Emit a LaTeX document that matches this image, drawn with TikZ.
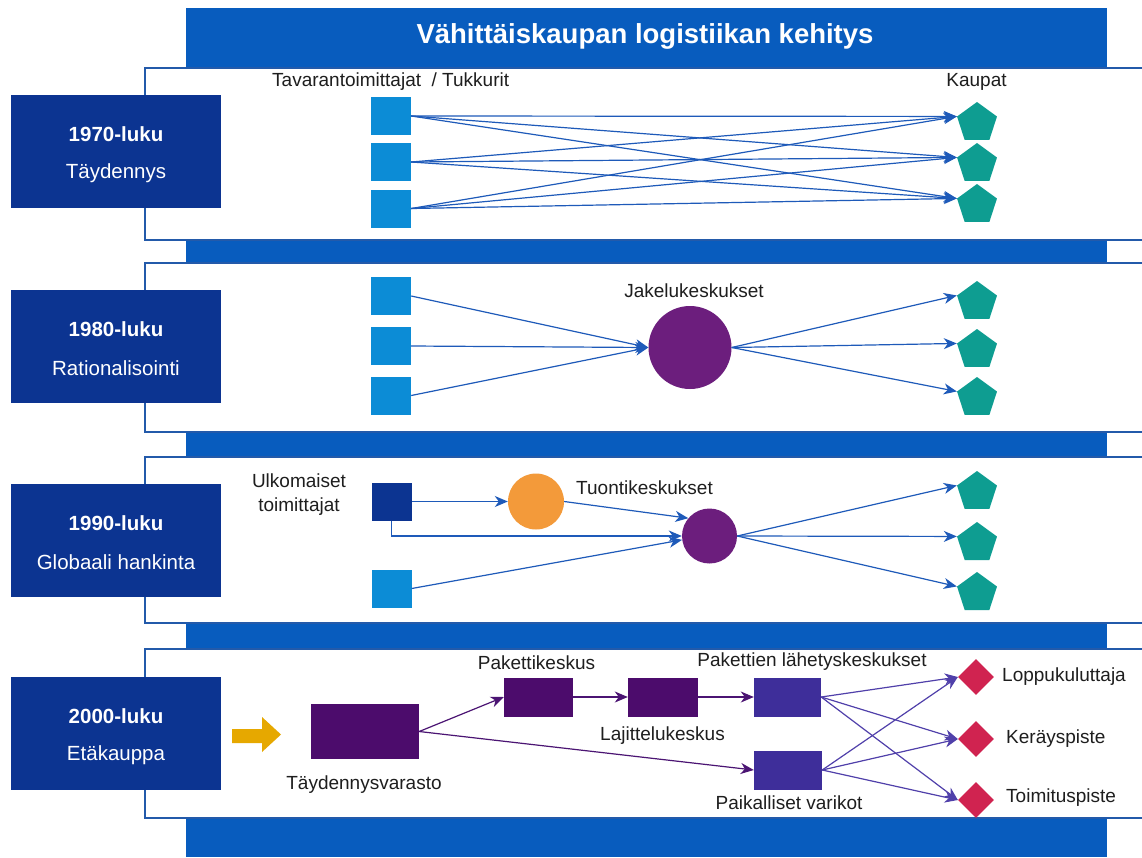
\documentclass[tikz,border=0pt]{standalone}
\usepackage{fontspec}
\setmainfont{Liberation Sans}
\usetikzlibrary{shapes.geometric,arrows.meta}
\definecolor{bandblue}{RGB}{8,92,190}
\definecolor{panelline}{RGB}{35,90,170}
\definecolor{navybox}{RGB}{12,52,145}
\definecolor{sqblue}{RGB}{12,140,214}
\definecolor{pentteal}{RGB}{14,157,145}
\definecolor{circpurple}{RGB}{108,30,125}
\definecolor{circorange}{RGB}{243,154,58}
\definecolor{boxpurple}{RGB}{76,12,108}
\definecolor{boxindigo}{RGB}{62,46,154}
\definecolor{diacrimson}{RGB}{208,35,80}
\definecolor{goldarrow}{RGB}{230,168,0}
\definecolor{lineblue}{RGB}{30,90,185}
\definecolor{linepurple}{RGB}{75,20,115}
\definecolor{lineindigo}{RGB}{80,64,170}
\definecolor{txtgray}{RGB}{30,30,30}
\begin{document}
\begin{tikzpicture}[x=1pt,y=-1pt,
  panel/.style={fill=white, draw=panelline, line width=2pt},
  erabox/.style={fill=navybox, minimum width=210pt, minimum height=113pt, inner sep=0pt},
  erayear/.style={text=white, font=\bfseries\fontsize{20.5}{24}\selectfont, inner sep=0pt},
  eraname/.style={text=white, font=\fontsize{20.5}{24}\selectfont, inner sep=0pt},
  sq/.style={fill=sqblue, minimum width=40pt, minimum height=38pt, inner sep=0pt},
  pent/.style={regular polygon, regular polygon sides=5, fill=pentteal, minimum size=42pt, inner sep=0pt},
  lab/.style={text=txtgray, font=\fontsize{19}{24}\selectfont, inner sep=0pt},
  tip/.style={-{Stealth[length=13pt,width=11pt,inset=4pt]}},
  conn/.style={draw=lineblue, line width=1.2pt, tip},
  pconn/.style={draw=linepurple, line width=1.2pt, tip},
  iconn/.style={draw=lineindigo, line width=1.2pt, tip},
  pbox/.style={fill=boxpurple, inner sep=0pt},
  ibox/.style={fill=boxindigo, inner sep=0pt},
  dia/.style={diamond, aspect=1, fill=diacrimson, minimum size=36pt, inner sep=0pt}
]
\useasboundingbox (0,0) rectangle (1142,857);
\fill[white] (0,0) rectangle (1142,857);
% blue band
\fill[bandblue] (186,8) rectangle (1107,857);
\node[text=white, font=\bfseries\fontsize{27.5}{30}\selectfont, inner sep=0pt, anchor=base] (title) at (645,43) {Vähittäiskaupan logistiikan kehitys};
% panels
\draw[panel] (145,68) rectangle (1144,240);
\draw[panel] (145,263) rectangle (1144,432);
\draw[panel] (145,457) rectangle (1144,623);
\draw[panel] (145,649) rectangle (1144,818);
% era boxes
\node[erabox] (e1) at (116,151.5) {};
\node[erayear] (e1y) at (116,134) {1970-luku};
\node[eraname] (e1n) at (116,173) {Täydennys};
\node[erabox] (e2) at (116,346.5) {};
\node[erayear] (e2y) at (116,329) {1980-luku};
\node[eraname] (e2n) at (116,368) {Rationalisointi};
\node[erabox] (e3) at (116,540.5) {};
\node[erayear] (e3y) at (116,523) {1990-luku};
\node[eraname] (e3n) at (116,562) {Globaali hankinta};
\node[erabox] (e4) at (116,733.5) {};
\node[erayear] (e4y) at (116,716) {2000-luku};
\node[eraname] (e4n) at (116,755) {Etäkauppa};

% ---------- Row 1
\node[lab, anchor=west] (suppl) at (272,82) {Tavarantoimittajat\ \ / Tukkurit};
\node[lab] (kaupat) at (976.5,82) {Kaupat};
\node[sq] (a1) at (391,116) {};
\node[sq] (a2) at (391,162) {};
\node[sq] (a3) at (391,208.5) {};
\node[pent] (k1) at (977,123) {};
\node[pent] (k2) at (977,164) {};
\node[pent] (k3) at (977,205) {};
\foreach \i in {1,2,3}{\foreach \j in {1,2,3}{\draw[conn] (a\i.east) -- (k\j.corner 2);}}

% ---------- Row 2
\node[sq] (b1) at (391,296) {};
\node[sq] (b2) at (391,346) {};
\node[sq] (b3) at (391,395.5) {};
\node[circle, fill=circpurple, minimum size=83pt, inner sep=0pt] (jc) at (690,347.5) {};
\node[lab] (jclab) at (694,291) {Jakelukeskukset};
\node[pent] (m1) at (977,302) {};
\node[pent] (m2) at (977,350) {};
\node[pent] (m3) at (977,398) {};
\foreach \i in {1,2,3}{\draw[conn] (b\i.east) -- (jc.west);}
\foreach \j in {1,2,3}{\draw[conn] (jc.east) -- (m\j.corner 2);}

% ---------- Row 3
\node[lab, align=center] (ulk) at (299,495) {Ulkomaiset\\toimittajat};
\node[sq, fill=navybox] (c1) at (391.5,501.5) {};
\node[sq] (c2) at (391.5,588.5) {};
\node[circle, fill=circorange, minimum size=56pt, inner sep=0pt] (oc) at (536,501.5) {};
\node[lab] (tklab) at (644.5,488) {Tuontikeskukset};
\node[circle, fill=circpurple, minimum size=55pt, inner sep=0pt] (pc) at (709.5,536) {};
\node[pent] (n1) at (977,492) {};
\node[pent] (n2) at (977,543) {};
\node[pent] (n3) at (977,593) {};
\draw[conn] (c1.east) -- (oc.west);
\draw[conn] (oc.east) -- (pc.140);
\draw[conn] (c1.south) |- (pc.west);
\draw[conn] (c2.east) -- (pc.188);
\foreach \j in {1,2,3}{\draw[conn] (pc.east) -- (n\j.corner 2);}

% ---------- Row 4
\fill[goldarrow] (232,729) -- (262,729) -- (262,717) -- (281,734.5) -- (262,752) -- (262,743) -- (232,743) -- cycle;
\node[pbox, minimum width=108pt, minimum height=55pt] (tv) at (365,731.5) {};
\node[lab] (tvlab) at (364,785) {Täydennysvarasto};
\node[pbox, minimum width=69pt, minimum height=39pt] (pk) at (538.5,697) {};
\node[lab] (pklab) at (536.5,663) {Pakettikeskus};
\node[pbox, minimum width=70pt, minimum height=39pt] (lk) at (663,697) {};
\node[lab] (lklab) at (662.5,736) {Lajittelukeskus};
\node[ibox, minimum width=67pt, minimum height=39pt] (pl) at (787.5,697) {};
\node[lab] (pllab) at (812,662) {Pakettien lähetyskeskukset};
\node[ibox, minimum width=68pt, minimum height=39pt] (pv) at (788,770) {};
\node[lab] (pvlab) at (789,803) {Paikalliset varikot};
\node[dia] (d1) at (976,677) {};
\node[dia] (d2) at (976,739) {};
\node[dia] (d3) at (976,800) {};
\node[lab, anchor=west] (d1lab) at (1002,677) {Loppukuluttaja};
\node[lab, anchor=west] (d2lab) at (1006,739) {Keräyspiste};
\node[lab, anchor=west] (d3lab) at (1006,798) {Toimituspiste};
\draw[pconn] (tv.east) -- (pk.west);
\draw[pconn] (tv.east) -- (pv.west);
\draw[pconn] (pk.east) -- (lk.west);
\draw[pconn] (lk.east) -- (pl.west);
\foreach \j in {1,2,3}{\draw[iconn] (pl.east) -- (d\j.west);}
\foreach \j in {1,2,3}{\draw[iconn] (pv.east) -- (d\j.west);}
\end{tikzpicture}
\end{document}
